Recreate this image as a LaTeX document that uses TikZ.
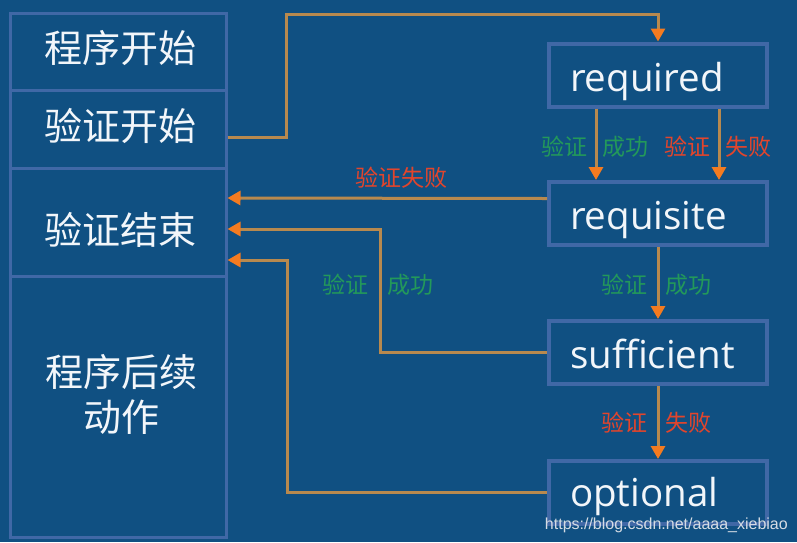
\documentclass[tikz,border=0pt]{standalone}
\usepackage{fontspec}
\setmainfont{Open Sans}
\newfontfamily\cjk{Noto Sans CJK SC}
\newfontfamily\wmfont{Liberation Sans}
\usetikzlibrary{arrows.meta}
\definecolor{bg}{HTML}{105082}
\definecolor{boxline}{HTML}{4068A6}
\definecolor{wire}{HTML}{B8894E}
\definecolor{tip}{HTML}{F47B20}
\definecolor{okc}{HTML}{23995A}
\definecolor{failc}{HTML}{E2452C}
\definecolor{txt}{HTML}{F2F6FA}
\definecolor{wmc}{HTML}{D5DCE4}
\begin{document}
\begin{tikzpicture}[x=1pt,y=-1pt,
  colbox/.style={draw=boxline, line width=3pt, minimum width=216pt, inner sep=0pt},
  coltext/.style={text=txt, font=\cjk\fontsize{38}{45}\selectfont, align=center, inner sep=0pt},
  pambox/.style={draw=boxline, line width=4pt, minimum height=63pt, text width=176pt,
    text height=32pt, text depth=0pt,
    inner xsep=21pt, inner ysep=0pt, align=left, text=txt, font=\fontsize{38.5}{40}\selectfont},
  conn/.style={draw=wire, line width=3pt, -{Triangle[color=tip, length=13pt, width=14pt]}},
  ok/.style={text=okc, font=\cjk\fontsize{23}{23}\selectfont, inner sep=0pt},
  fail/.style={text=failc, font=\cjk\fontsize{23}{23}\selectfont, inner sep=0pt}
]
\fill[bg] (0,0) rectangle (797,542);
\useasboundingbox (0,0) rectangle (797,542);

% left column
\node[colbox, minimum height=77pt] (pstart) at (118,51.5) {};
\node[colbox, minimum height=78pt] (vstart) at (118,129) {};
\node[colbox, minimum height=108pt] (vend) at (118,222) {};
\node[colbox, minimum height=261pt] (after) at (118,406.5) {};
\node[coltext] (pstarttext) at (120,48) {程序开始};
\node[coltext] (vstarttext) at (120,126) {验证开始};
\node[coltext] (vendtext) at (120,230) {验证结束};
\node[coltext] (aftertext) at (121,394) {程序后续\\动作};

% right column
\node[pambox] (req) at (658,75) {required};
\node[pambox] (rqs) at (658,213.5) {requisite};
\node[pambox] (suf) at (658,352.5) {sufficient};
\node[pambox, text height=28pt] (opt) at (658,492.5) {optional};

% connectors
\draw[conn] ([yshift=-8pt]vstart.east) -| (286,14) -| (req.north);
\draw[conn] ([xshift=-62pt]req.south) -- ([xshift=-62pt]rqs.north);
\draw[conn] ([xshift=61pt]req.south) -- ([xshift=61pt]rqs.north);
\draw[conn] ([yshift=15pt]rqs.west) -- ([yshift=24pt]vend.east);
\draw[conn] (rqs.south) -- (suf.north);
\draw[conn] (suf.west) -- (380,352.5) -- (380,229) -- ([yshift=-7pt]vend.east);
\draw[conn] (suf.south) -- (opt.north);
\draw[conn] (opt.west) -- (287,492.5) -- (287,260) -- ([yshift=-38pt]vend.east);

% labels
\node[ok, anchor=east] (l1a) at (588,147) {验证};
\node[ok, anchor=west] (l1b) at (602,147) {成功};
\node[fail, anchor=east] (l2a) at (711,147) {验证};
\node[fail, anchor=west] (l2b) at (725,147) {失败};
\node[fail] (l3) at (401,178) {验证失败};
\node[ok, anchor=east] (l4a) at (648,285) {验证};
\node[ok, anchor=west] (l4b) at (665,285) {成功};
\node[ok, anchor=east] (l5a) at (369,285) {验证};
\node[ok, anchor=west] (l5b) at (387,285) {成功};
\node[fail, anchor=east] (l6a) at (648,423) {验证};
\node[fail, anchor=west] (l6b) at (665,423) {失败};

% watermark
\node[font=\wmfont\fontsize{16}{16}\selectfont, text=wmc, anchor=east, inner sep=0pt] (wm) at (788,525) {https://blog.csdn.net/aaaa\_xiebiao};
\end{tikzpicture}
\end{document}
